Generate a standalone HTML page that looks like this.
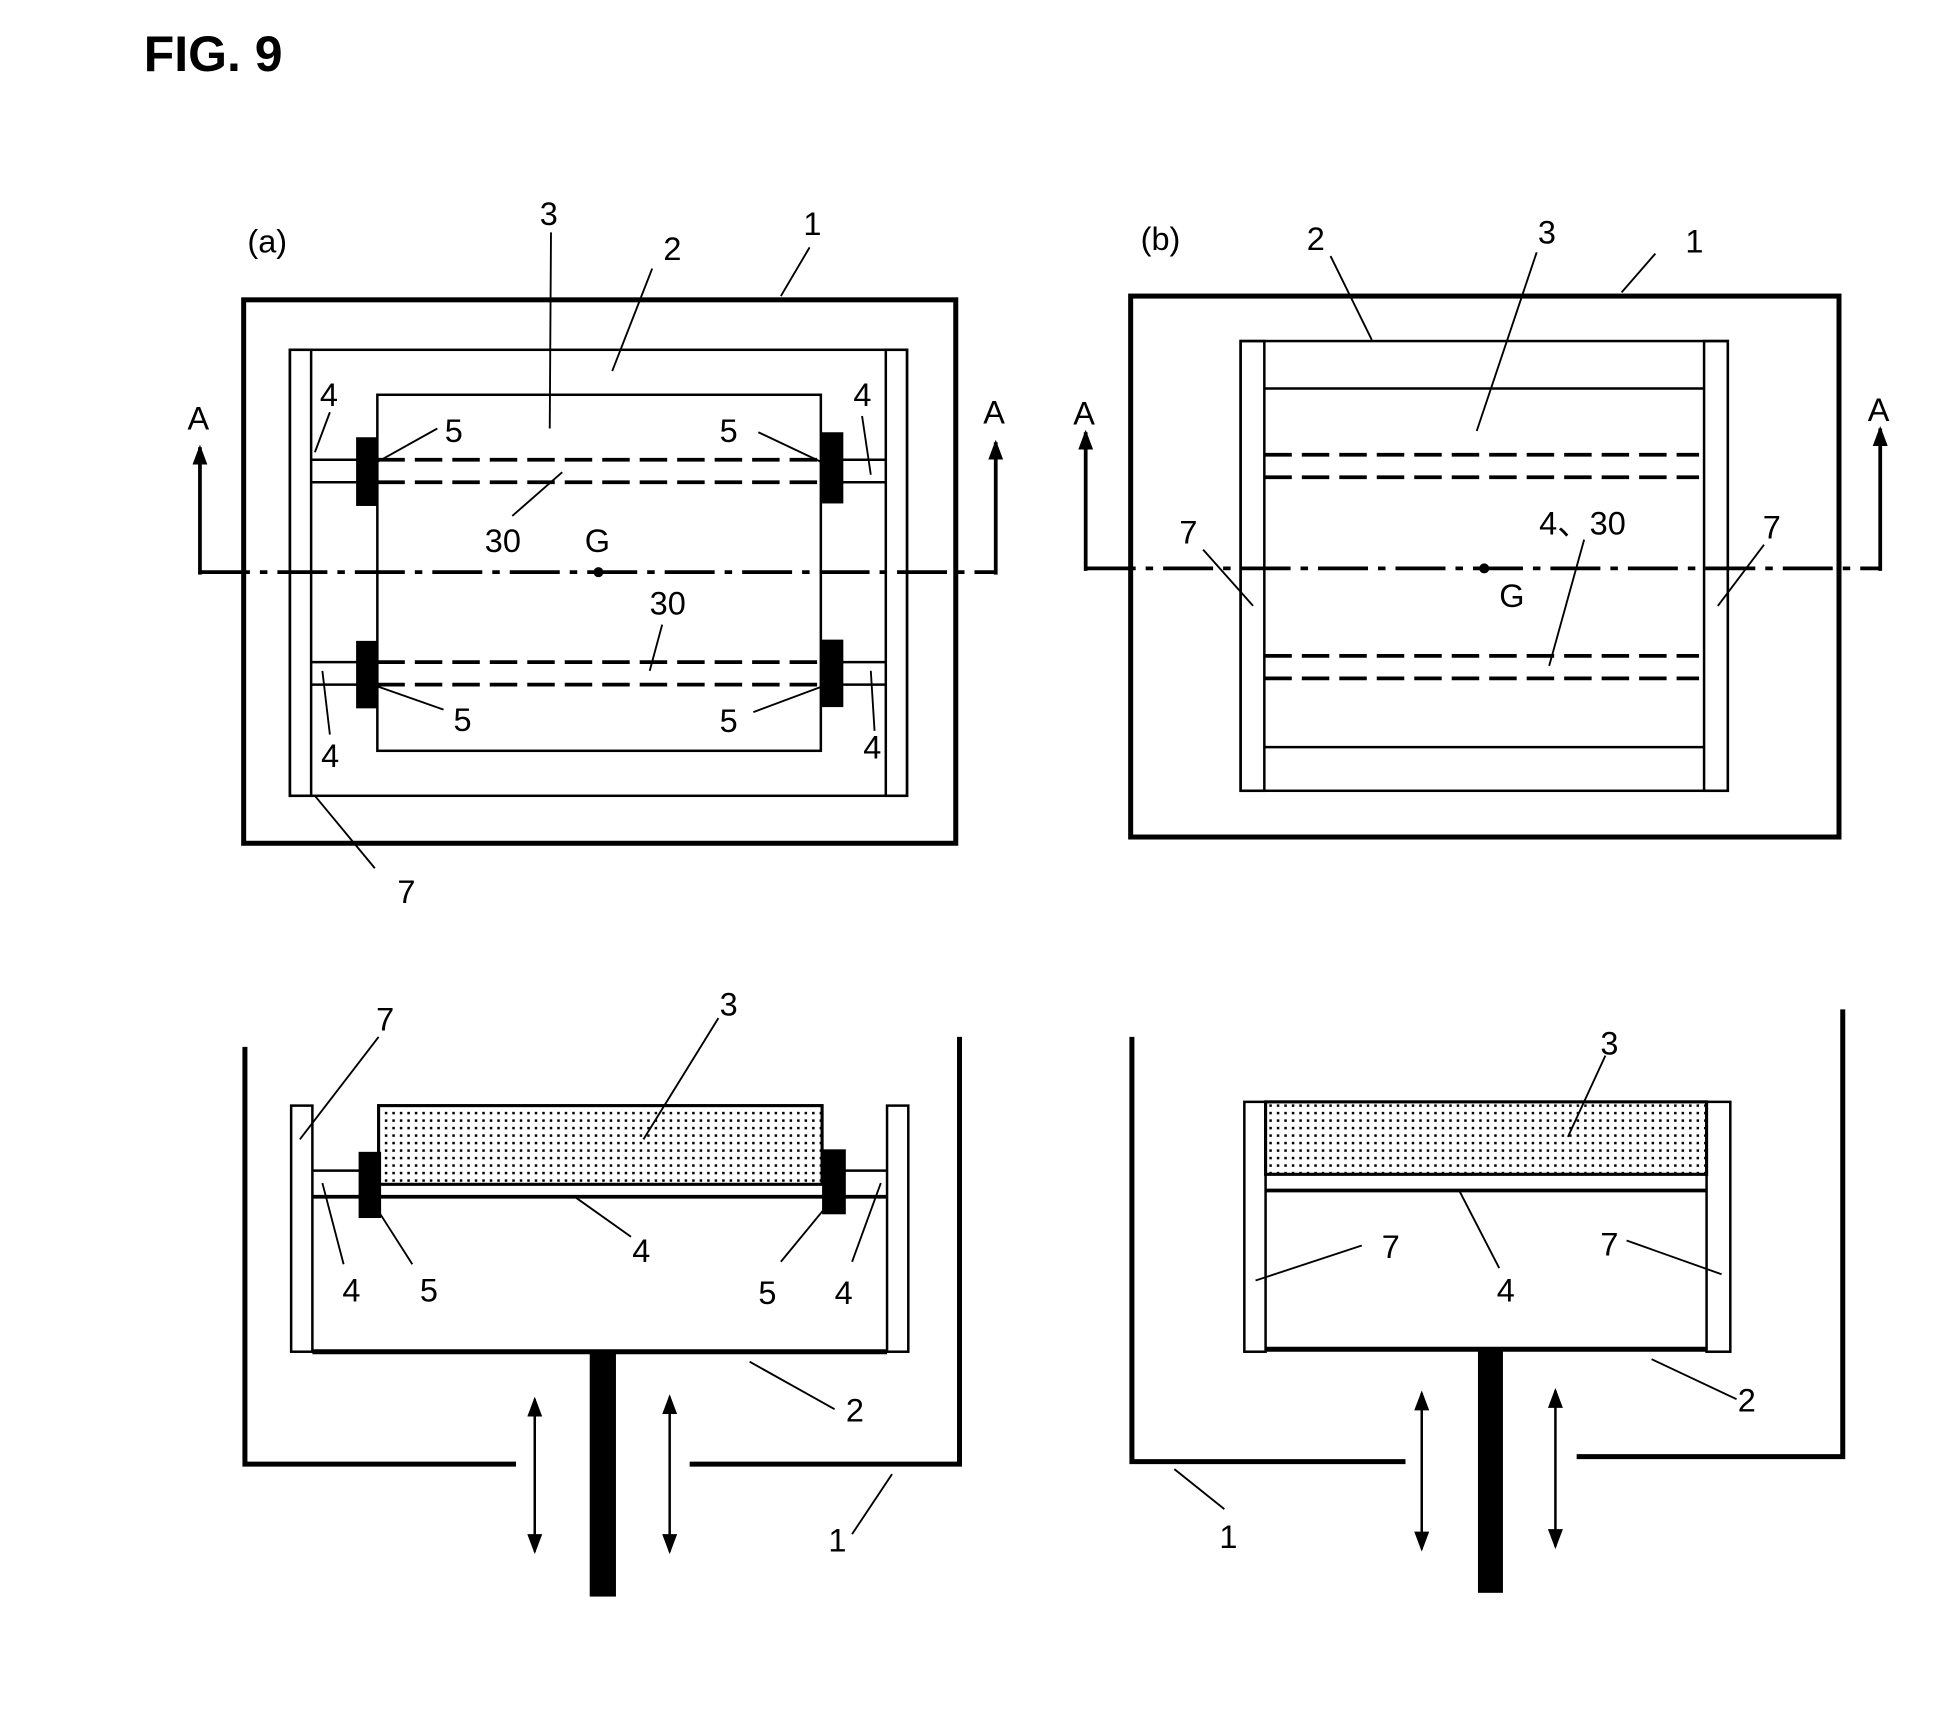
<!DOCTYPE html>
<html><head><meta charset="utf-8"><style>
html,body{margin:0;padding:0;background:#fff;}
svg{display:block;}
text{font-family:"Liberation Sans",Arial,sans-serif;font-size:26px;fill:#000;}
</style></head><body>
<svg width="1949" height="1724" viewBox="0 0 1560 1380" xmlns="http://www.w3.org/2000/svg">
<defs>
<pattern id="dots" width="6" height="6" patternUnits="userSpaceOnUse">
<rect x="2" y="2" width="2" height="2" fill="#000"/>
</pattern>
<marker id="ah" markerWidth="16" markerHeight="12" refX="14" refY="6" orient="auto-start-reverse" markerUnits="userSpaceOnUse" viewBox="0 0 16 12"><path d="M0,0 L16,6 L0,12 Z" fill="#000"/></marker>
</defs>
<text x="115" y="57" style="font-size:40px;font-weight:bold">FIG. 9</text>

<g fill="none" stroke="#000">
<!-- (a) top view -->
<rect x="195" y="240" width="570" height="435" stroke-width="4"/>
<rect x="232" y="280" width="494" height="357" stroke-width="2"/>
<rect x="232" y="280" width="17" height="357" stroke-width="2"/>
<rect x="709" y="280" width="17" height="357" stroke-width="2"/>
<rect x="302" y="316" width="355" height="285" stroke-width="2"/>
<g stroke-width="2">
<line x1="249" y1="368" x2="302" y2="368"/><line x1="249" y1="386" x2="302" y2="386"/>
<line x1="657" y1="368" x2="709" y2="368"/><line x1="657" y1="386" x2="709" y2="386"/>
<line x1="249" y1="530" x2="302" y2="530"/><line x1="249" y1="548" x2="302" y2="548"/>
<line x1="657" y1="530" x2="709" y2="530"/><line x1="657" y1="548" x2="709" y2="548"/>
</g>
<g stroke-width="3" stroke-dasharray="22,8">
<line x1="302" y1="368" x2="657" y2="368"/><line x1="302" y1="386" x2="657" y2="386"/>
<line x1="302" y1="530" x2="657" y2="530"/><line x1="302" y1="548" x2="657" y2="548"/>
</g>
<line x1="160" y1="458" x2="797" y2="458" stroke-width="3" stroke-dasharray="40,8,6,8"/>
<line x1="160" y1="460" x2="160" y2="358" stroke-width="3" marker-end="url(#ah)"/>
<line x1="797" y1="460" x2="797" y2="354" stroke-width="3" marker-end="url(#ah)"/>
<g stroke-width="1.5">
<line x1="625" y1="237" x2="648" y2="198"/>
<line x1="490" y1="297" x2="522" y2="215"/>
<line x1="440" y1="343" x2="441" y2="186"/>
<line x1="252" y1="362" x2="264" y2="330"/>
<line x1="697" y1="380" x2="690" y2="333"/>
<line x1="298" y1="372" x2="350" y2="343"/>
<line x1="662" y1="372" x2="607" y2="346"/>
<line x1="410" y1="413" x2="450" y2="378"/>
<line x1="520" y1="537" x2="530" y2="500"/>
<line x1="298" y1="548" x2="355" y2="568"/>
<line x1="662" y1="548" x2="603" y2="570"/>
<line x1="258" y1="537" x2="264" y2="588"/>
<line x1="697" y1="537" x2="700" y2="585"/>
<line x1="252" y1="637" x2="300" y2="695"/>
</g>
<!-- (b) top view -->
<rect x="905" y="237" width="567" height="433" stroke-width="4"/>
<rect x="993" y="273" width="390" height="360" stroke-width="2"/>
<rect x="993" y="273" width="19" height="360" stroke-width="2"/>
<rect x="1364" y="273" width="19" height="360" stroke-width="2"/>
<line x1="1012" y1="311" x2="1364" y2="311" stroke-width="2"/>
<line x1="1012" y1="598" x2="1364" y2="598" stroke-width="2"/>
<g stroke-width="3" stroke-dasharray="22,8">
<line x1="1012" y1="364" x2="1360" y2="364"/><line x1="1012" y1="382" x2="1360" y2="382"/>
<line x1="1012" y1="525" x2="1360" y2="525"/><line x1="1012" y1="543" x2="1360" y2="543"/>
</g>
<line x1="869" y1="455" x2="1505" y2="455" stroke-width="3" stroke-dasharray="40,8,6,8"/>
<line x1="869" y1="457" x2="869" y2="346" stroke-width="3" marker-end="url(#ah)"/>
<line x1="1505" y1="457" x2="1505" y2="343" stroke-width="3" marker-end="url(#ah)"/>
<g stroke-width="1.5">
<line x1="1298" y1="234" x2="1325" y2="203"/>
<line x1="1098" y1="272" x2="1065" y2="205"/>
<line x1="1182" y1="345" x2="1230" y2="202"/>
<line x1="1003" y1="485" x2="963" y2="440"/>
<line x1="1375" y1="485" x2="1412" y2="436"/>
<line x1="1240" y1="533" x2="1268" y2="432"/>
</g>
<!-- (a) section -->
<polyline points="196,838 196,1172 413,1172" stroke-width="4"/>
<polyline points="552,1172 768,1172 768,830" stroke-width="4"/>
<rect x="233" y="885" width="17" height="197" stroke-width="2"/>
<rect x="710" y="885" width="17" height="197" stroke-width="2"/>
<line x1="250" y1="1082" x2="710" y2="1082" stroke-width="4"/>
<rect x="303" y="885" width="355" height="63" stroke-width="2.5" fill="url(#dots)"/>
<line x1="250" y1="937" x2="303" y2="937" stroke-width="2"/>
<line x1="658" y1="937" x2="710" y2="937" stroke-width="2"/>
<line x1="250" y1="958" x2="710" y2="958" stroke-width="3"/>
<line x1="428" y1="1120" x2="428" y2="1242" stroke-width="2" marker-start="url(#ah)" marker-end="url(#ah)"/>
<line x1="536" y1="1118" x2="536" y2="1242" stroke-width="2" marker-start="url(#ah)" marker-end="url(#ah)"/>
<g stroke-width="1.5">
<line x1="240" y1="912" x2="303" y2="830"/>
<line x1="515" y1="912" x2="575" y2="815"/>
<line x1="258" y1="947" x2="275" y2="1012"/>
<line x1="300" y1="965" x2="330" y2="1012"/>
<line x1="460" y1="958" x2="505" y2="990"/>
<line x1="662" y1="965" x2="625" y2="1010"/>
<line x1="705" y1="947" x2="682" y2="1010"/>
<line x1="600" y1="1090" x2="668" y2="1128"/>
<line x1="682" y1="1228" x2="714" y2="1180"/>
</g>
<!-- (b) section -->
<polyline points="906,830 906,1170 1125,1170" stroke-width="4"/>
<polyline points="1262,1166 1475,1166 1475,808" stroke-width="4"/>
<rect x="996" y="882" width="17" height="200" stroke-width="2"/>
<rect x="1366" y="882" width="19" height="200" stroke-width="2"/>
<line x1="1013" y1="1080" x2="1366" y2="1080" stroke-width="4"/>
<rect x="1013" y="882" width="353" height="58" stroke-width="2.5" fill="url(#dots)"/>
<line x1="1013" y1="953" x2="1366" y2="953" stroke-width="3"/>
<line x1="1138" y1="1115" x2="1138" y2="1240" stroke-width="2" marker-start="url(#ah)" marker-end="url(#ah)"/>
<line x1="1245" y1="1113" x2="1245" y2="1238" stroke-width="2" marker-start="url(#ah)" marker-end="url(#ah)"/>
<g stroke-width="1.5">
<line x1="1255" y1="910" x2="1285" y2="845"/>
<line x1="1005" y1="1025" x2="1090" y2="997"/>
<line x1="1168" y1="953" x2="1200" y2="1015"/>
<line x1="1378" y1="1020" x2="1302" y2="993"/>
<line x1="1322" y1="1088" x2="1390" y2="1120"/>
<line x1="940" y1="1176" x2="980" y2="1208"/>
</g>
</g>
<!-- solid black parts -->
<g fill="#000">
<rect x="285" y="350" width="17" height="55"/>
<rect x="657" y="346" width="18" height="57"/>
<rect x="285" y="513" width="17" height="54"/>
<rect x="657" y="512" width="18" height="54"/>
<rect x="287" y="922" width="18" height="53"/>
<rect x="658" y="920" width="19" height="52"/>
<rect x="472" y="1082" width="21" height="196"/>
<rect x="1183" y="1080" width="20" height="195"/>
<circle cx="479" cy="458" r="4"/>
<circle cx="1188" cy="455" r="4"/>
</g>
<!-- labels -->
<text x="198" y="202">(a)</text>
<text x="432" y="180">3</text>
<text x="531" y="208">2</text>
<text x="643" y="188">1</text>
<text x="256" y="325">4</text>
<text x="683" y="325">4</text>
<text x="356" y="354">5</text>
<text x="576" y="354">5</text>
<text x="388" y="442">30</text>
<text x="468" y="442">G</text>
<text x="520" y="492">30</text>
<text x="363" y="585">5</text>
<text x="576" y="586">5</text>
<text x="257" y="614">4</text>
<text x="691" y="607">4</text>
<text x="318" y="723">7</text>
<text x="150" y="344">A</text>
<text x="787" y="339">A</text>

<text x="913" y="200">(b)</text>
<text x="1046" y="200">2</text>
<text x="1231" y="195">3</text>
<text x="1349" y="202">1</text>
<text x="1232" y="428">4、30</text>
<text x="1200" y="486">G</text>
<text x="944" y="435">7</text>
<text x="1411" y="431">7</text>
<text x="859" y="340">A</text>
<text x="1495" y="337">A</text>

<text x="301" y="825">7</text>
<text x="576" y="813">3</text>
<text x="274" y="1042">4</text>
<text x="336" y="1042">5</text>
<text x="506" y="1010">4</text>
<text x="607" y="1044">5</text>
<text x="668" y="1044">4</text>
<text x="677" y="1138">2</text>
<text x="663" y="1242">1</text>

<text x="1281" y="844">3</text>
<text x="1106" y="1007">7</text>
<text x="1198" y="1042">4</text>
<text x="1281" y="1005">7</text>
<text x="1391" y="1130">2</text>
<text x="976" y="1239">1</text>
</svg>
</body></html>
